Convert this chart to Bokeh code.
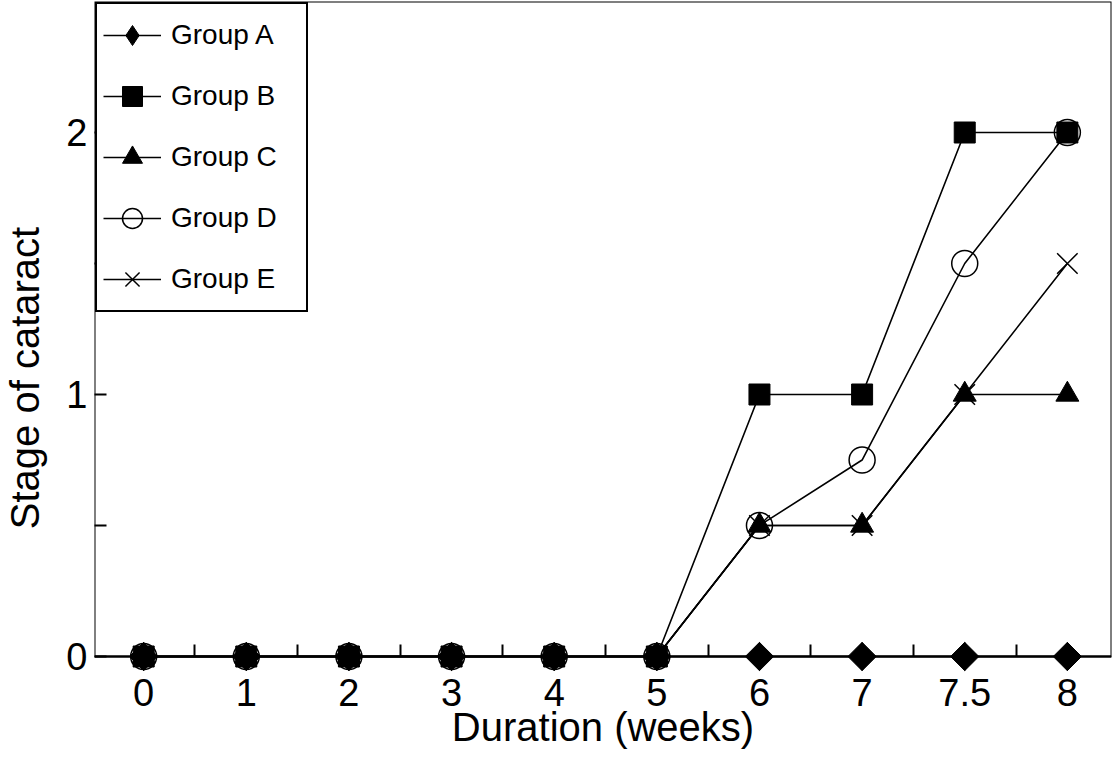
import math
from bokeh.plotting import figure
from bokeh.models import Range1d, FixedTicker, BoxAnnotation
from bokeh.embed import file_html
from bokeh.resources import INLINE

# ---- data ----
weeks = ["0", "1", "2", "3", "4", "5", "6", "7", "7.5", "8"]
group_a = [0, 0, 0, 0, 0, 0, 0, 0, 0, 0]
group_b = [0, 0, 0, 0, 0, 0, 1, 1, 2, 2]
group_c = [0, 0, 0, 0, 0, 0, 0.5, 0.5, 1, 1]
group_d = [0, 0, 0, 0, 0, 0, 0.5, 0.75, 1.5, 2]
group_e = [0, 0, 0, 0, 0, 0, 0.5, 0.5, 1, 1.5]
y_ticks = [0, 1, 2]
y_minor_ticks = [0.5, 1.5]

x_idx = list(range(len(weeks)))
FONT = "Liberation Sans"

p = figure(width=1112, height=754, output_backend="svg", toolbar_location=None,
           title=None,
           x_range=Range1d(-0.479, len(weeks) - 1 + 0.43),
           y_range=Range1d(-0.374, 2.5),
           min_border_left=89, min_border_right=1, min_border_top=1, min_border_bottom=0)
p.background_fill_color = "white"
p.border_fill_color = "white"
p.outline_line_color = None
p.xgrid.visible = False
p.ygrid.visible = False

# frame box from y=0 to top
box = BoxAnnotation(bottom=0, fill_color=None, fill_alpha=0,
                    line_color="black", line_alpha=1, line_width=2)
p.add_layout(box)

series = [
    ("Group A", group_a, dict(marker="diamond", size=28,
                              fill_color="black", line_color="black")),
    ("Group B", group_b, dict(marker="square", size=21,
                              fill_color="black", line_color="black")),
    ("Group C", group_c, dict(marker="triangle", size=23,
                              fill_color="black", line_color="black")),
    ("Group D", group_d, dict(marker="circle", size=26, fill_color=None,
                              line_color="black", line_width=1.5)),
    ("Group E", group_e, dict(marker="x", size=29,
                              line_color="black", line_width=1.5)),
]
for name, vals, mk in series:
    p.line(x_idx, vals, line_color="black", line_width=1.6, legend_label=name)
    p.scatter(x_idx, vals, legend_label=name, **mk)
    if name == "Group A":
        # wider diamond in the plot area (rotated square), not shown in legend
        p.scatter(x_idx, vals, marker="square", size=20, angle=math.pi / 4,
                  fill_color="black", line_color="black")

# x axis at y = 0
xa = p.xaxis[0]
xa.fixed_location = 0
xa.ticker = FixedTicker(ticks=x_idx, minor_ticks=[i + 0.5 for i in x_idx[:-1]])
xa.major_label_overrides = {i: w for i, w in zip(x_idx, weeks)}
xa.axis_line_width = 2
xa.axis_line_color = "black"
xa.major_tick_in = 0
xa.major_tick_out = 0
xa.minor_tick_in = 12
xa.minor_tick_out = 0
xa.minor_tick_line_width = 2
xa.minor_tick_line_color = "black"
xa.major_label_text_font = FONT
xa.major_label_text_font_size = "38px"
xa.major_label_text_color = "black"
xa.major_label_standoff = 22
xa.axis_label = "Duration (weeks)"
xa.axis_label_text_font = FONT
xa.axis_label_text_font_size = "40px"
xa.axis_label_text_font_style = "normal"
xa.axis_label_text_color = "black"
xa.axis_label_standoff = -4

ya = p.yaxis[0]
ya.ticker = FixedTicker(ticks=y_ticks, minor_ticks=y_minor_ticks)
ya.axis_line_color = None
ya.major_tick_in = 12
ya.major_tick_out = 0
ya.minor_tick_in = 12
ya.minor_tick_out = 0
ya.major_tick_line_width = 2
ya.minor_tick_line_width = 2
ya.major_tick_line_color = "black"
ya.minor_tick_line_color = "black"
ya.major_label_text_font = FONT
ya.major_label_text_font_size = "38px"
ya.major_label_text_color = "black"
ya.major_label_standoff = 7
ya.axis_label = "Stage of cataract"
ya.axis_label_text_font = FONT
ya.axis_label_text_font_size = "40px"
ya.axis_label_text_font_style = "normal"
ya.axis_label_text_color = "black"
ya.axis_label_standoff = 16

lg = p.legend[0]
lg.location = "top_left"
lg.margin = 1
lg.padding = 6
lg.spacing = 11
lg.glyph_height = 50
lg.glyph_width = 58
lg.label_height = 50
lg.label_width = 129
lg.label_standoff = 10
lg.label_text_font = FONT
lg.label_text_font_size = "28px"
lg.label_text_color = "black"
lg.border_line_color = "black"
lg.border_line_width = 2
lg.border_line_alpha = 1
lg.background_fill_color = "white"
lg.background_fill_alpha = 1

open("out.html", "w").write(file_html(p, INLINE))
